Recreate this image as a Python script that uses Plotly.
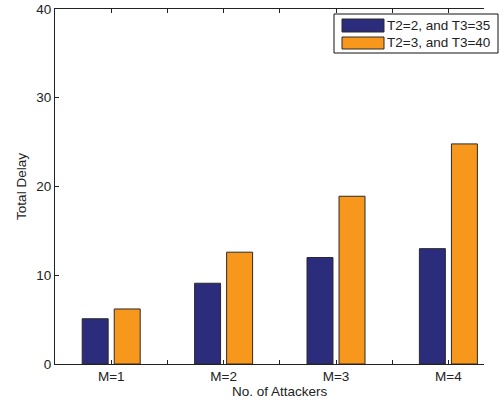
import plotly.graph_objects as go

# Data
categories = ["M=1", "M=2", "M=3", "M=4"]
series_names = ["T2=2, and T3=35", "T2=3, and T3=40"]
delay_t2_2 = [5.1, 9.1, 12.0, 13.0]
delay_t2_3 = [6.2, 12.6, 18.9, 24.8]
y_ticks = [0, 10, 20, 30, 40]

colors = ["#2B2C7B", "#F7981D"]
edge = "#2a2a2a"
axis_col = "#222"

x_pos = list(range(1, len(categories) + 1))

# plot area in pixels (for the hand-drawn legend)
W, H = 504, 404
L, R, T, B = 55, 20, 9, 40
pw, ph = W - L - R, H - T - B
unit_px = 112.4  # pixels per category step


def px(x):
    return (x - L) / pw


def py(y):
    return (H - B - y) / ph


fig = go.Figure()
bar_w = 0.231
offsets = [-0.258, 0.027]
for name, vals, col, off in zip(series_names, [delay_t2_2, delay_t2_3], colors, offsets):
    fig.add_trace(go.Bar(
        x=x_pos, y=vals, name=name, width=bar_w, offset=off,
        marker=dict(color=col, line=dict(color=edge, width=1)),
        showlegend=False,
    ))

# x ticks every half unit, labels only at categories
tickvals = []
ticktext = []
for i, c in enumerate(categories):
    tickvals += [x_pos[i] - 0.5, x_pos[i]]
    ticktext += ["", c]

font = dict(family="Liberation Sans, Arial, sans-serif", size=13.5, color="#222")

fig.update_layout(
    width=W, height=H,
    margin=dict(l=L, r=R, t=T, b=B, pad=0),
    paper_bgcolor="white", plot_bgcolor="white",
    font=font,
    barmode="overlay",
    xaxis=dict(
        range=[0.5, 0.5 + pw / unit_px],
        tickmode="array", tickvals=tickvals, ticktext=ticktext,
        ticks="inside", ticklen=4, tickcolor=axis_col, tickwidth=1,
        showline=True, linecolor=axis_col, linewidth=1, mirror="ticks",
        showgrid=False, zeroline=False,
        automargin=False,
    ),
    yaxis=dict(
        range=[0, 40],
        tickmode="array", tickvals=y_ticks,
        ticks="inside", ticklen=4, tickcolor=axis_col, tickwidth=1,
        showline=True, linecolor=axis_col, linewidth=1,
        showgrid=False, zeroline=False,
        title=dict(text="Total Delay", standoff=6, font=font),
        automargin=False,
    ),
)
# x title centred under the full axis span
fig.add_annotation(xref="paper", yref="paper", x=px(280), y=py(392),
                   text="No. of Attackers", showarrow=False,
                   xanchor="center", yanchor="middle", font=font)

# legend box with wide swatches
fig.add_shape(type="rect", xref="paper", yref="paper",
              x0=px(334), x1=px(498), y0=py(53), y1=py(14),
              line=dict(color="#111", width=1), fillcolor="white", layer="above")
rows = [(19, 32), (37, 49)]
for (y0, y1), name, col in zip(rows, series_names, colors):
    fig.add_shape(type="rect", xref="paper", yref="paper",
                  x0=px(342), x1=px(384), y0=py(y1), y1=py(y0),
                  line=dict(color=edge, width=1), fillcolor=col, layer="above")
    fig.add_annotation(xref="paper", yref="paper", x=px(385), y=py((y0 + y1) / 2),
                       text=name, showarrow=False, xanchor="left", yanchor="middle",
                       font=font)

fig.write_html("out.html")
